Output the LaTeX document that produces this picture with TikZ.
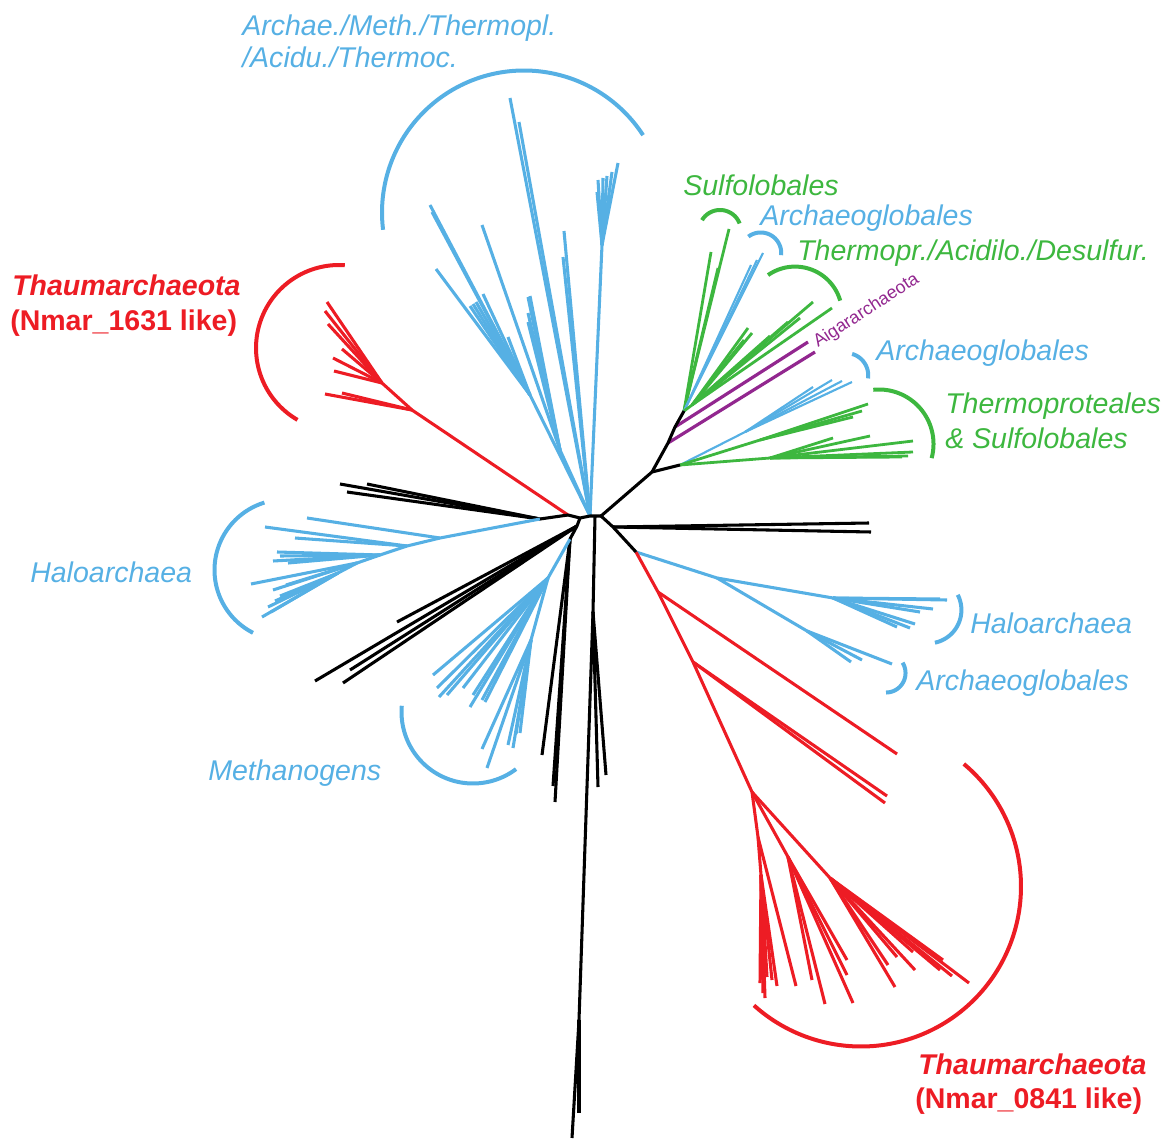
\documentclass[tikz,border=0pt]{standalone}
\usepackage{fontspec}
\setmainfont{Liberation Sans}
\definecolor{cblue}{RGB}{86,176,228}
\definecolor{cred}{RGB}{237,28,36}
\definecolor{cgreen}{RGB}{61,183,63}
\definecolor{cpurple}{RGB}{146,39,143}
\newcommand\leafset[3]{\foreach \lx/\ly in {#3}{\draw[#1] (#2) -- (\lx,\ly);}}
\newcommand\cladearc[6]{\draw[#1] plot[domain=#5:#6,samples=60,smooth] ({#2+#4*cos(\x)},{#3-#4*sin(\x)});}
\begin{document}
\begin{tikzpicture}[x=0.75pt,y=-0.75pt,
  blk/.style={line width=2.3pt,black},
  rb/.style={line width=2.3pt,cred},
  bb/.style={line width=2.3pt,cblue},
  bt/.style={line width=1.6pt,cblue},
  gb/.style={line width=2.1pt,cgreen},
  pb/.style={line width=2.4pt,cpurple},
  arcb/.style={line width=3pt,cblue},
  arcr/.style={line width=3pt,cred},
  arcg/.style={line width=3pt,cgreen},
  lab/.style={font=\fontsize{21.4}{26}\selectfont\itshape,anchor=base west,inner sep=0pt},
  blab/.style={font=\fontsize{21.4}{26}\selectfont\bfseries,anchor=base west,inner sep=0pt,text=cred}]
\useasboundingbox (0,0) rectangle (1166,1141);

% ---------- internal nodes ----------
\coordinate (J0) at (568,515);
\coordinate (J1) at (580,518);
\coordinate (J2) at (590,516);
\coordinate (JV) at (595,516);
\coordinate (J3) at (601,516);
\coordinate (JL) at (540,519);
\coordinate (JD) at (577,526);
\coordinate (JB) at (570,539);
\coordinate (K1) at (613,527);
\coordinate (K2) at (636,552);
\coordinate (P1) at (652,472);
\coordinate (G0) at (680,465);
\coordinate (Pa) at (668,443);
\coordinate (Pb) at (675,427);
\coordinate (P2) at (684,411);
\coordinate (P3) at (692,405);
\coordinate (GB) at (745,432);
\coordinate (GG1) at (760,440);
\coordinate (GG2) at (770,458);
\coordinate (R1) at (412,410);
\coordinate (R2) at (382,383);
\coordinate (U1) at (602,245);
\coordinate (U2) at (530,395);
\coordinate (U3) at (560,450);
\coordinate (H1) at (440,538);
\coordinate (H2) at (407,546);
\coordinate (H3) at (380,555);
\coordinate (H4) at (357,563);
\coordinate (H5) at (338,573);
\coordinate (M1) at (548,578);
\coordinate (M2) at (531,640);
\coordinate (V1) at (593,612);
\coordinate (V2) at (579,1020);
\coordinate (Q1) at (717,578);
\coordinate (Q2) at (833,598);
\coordinate (Q3) at (807,631);
\coordinate (T1) at (658,592);
\coordinate (T2) at (693,662);
\coordinate (T3) at (752,792);
\coordinate (T4) at (758,837);
\coordinate (T5) at (761,875);
\coordinate (T6) at (788,857);
\coordinate (T7) at (830,878);

% ---------- upper blue cluster ----------
\draw[bb] (J2) -- (U1);
\leafset{bb}{U1}{618/163, 612/172, 607/176, 603/178, 598/180, 597/192}
\leafset{bb}{J2}{510/98, 519/122, 564/231, 563/257}
\draw[bb] (J2) -- (U3);
\leafset{bb}{U3}{482/225, 528/297, 530/296, 528/313, 528/322}
\draw[bb] (J2) -- (U2);
\leafset{bb}{U2}{430/205, 432/212, 436/269, 470/306, 473/304, 476/302, 483/294, 508/337}

% ---------- upper-left red ----------
\draw[rb] (J0) -- (R1) -- (R2);
\leafset{rb}{R1}{325/394, 342/393}
\leafset{rb}{R2}{334/371, 333/358, 342/349, 327/302, 325/311, 328/324}

% ---------- left black + Haloarchaea ----------
\leafset{blk}{JL}{340/484, 367/484, 347/492}
\draw[bb] (JL) -- (H1) -- (H2) -- (H3) -- (H4) -- (H5);
\leafset{bb}{H1}{307/518}
\leafset{bb}{H2}{265/527, 295/538}
\leafset{bb}{H3}{277/552, 280/556, 273/561, 288/563}
\leafset{bb}{H4}{251/584, 273/590, 286/585}
\leafset{bb}{H5}{262/617, 268/607, 275/601, 280/596, 271/612}

% ---------- lower-left black + Methanogens ----------
\leafset{blk}{JD}{397/622, 315/681, 350/670, 343/683}
\leafset{blk}{JB}{542/755, 553/786, 555/802}
\draw[bb] (JB) -- (M1) -- (M2);
\leafset{bb}{M1}{433/675, 437/688, 439/697, 447/695, 463/688, 470/707, 473/695, 482/700, 485/702}
\leafset{bb}{M2}{482/749, 487/768, 513/748, 516/734, 520/733, 508/745}

% ---------- vertical black ----------
\draw[blk] (JV) -- (V1) -- (V2);
\leafset{blk}{V1}{598/787, 606/775}
\leafset{blk}{V2}{572/1138, 579/1113}

% ---------- right black ----------
\leafset{blk}{K1}{869/523, 871/532}

% ---------- lower right blue ----------
\draw[bb] (K2) -- (Q1) -- (Q2);
\draw[bb] (Q1) -- (Q3);
\leafset{bb}{Q2}{940/599, 947/600, 933/609, 920/612, 915/624, 910/628, 897/627}
\leafset{bb}{Q3}{892/664, 862/660, 851/662}

% ---------- lower right red ----------
\draw[rb] (K2) -- (T1) -- (T2) -- (T3) -- (T4) -- (T5);
\leafset{rb}{T1}{897/754}
\leafset{rb}{T2}{887/796, 885/803}
\leafset{rb}{T4}{796/986}
\leafset{rb}{T5}{760/983, 763/993, 765/998, 767/977, 772/980, 777/986}
\draw[rb] (T3) -- (T6);
\leafset{rb}{T6}{812/980, 825/1004, 847/960, 847/975, 853/1003}
\draw[rb] (T3) -- (T7);
\leafset{rb}{T7}{895/987, 888/965, 897/957, 913/952, 915/970, 943/960, 952/976, 969/983, 940/970}

% ---------- upper right clade ----------
\leafset{gb}{P2}{729/229, 711/252, 718/268}
\leafset{bt}{P2}{763/253, 757/260, 751/265}
\draw[gb] (P2) -- (P3);
\leafset{gb}{P3}{832/308, 813/302, 788/322, 800/318, 748/328, 752/333, 744/340, 770/336}
\draw[pb] (Pa) -- (815,352);
\draw[pb] (Pb) -- (808,342);
\draw[bt] (G0) -- (GB);
\leafset{bt}{GB}{852/382, 842/381, 832/380, 813/387}
\draw[gb] (G0) -- (GG1);
\leafset{gb}{GG1}{868/404, 853/417, 862/411}
\draw[gb] (G0) -- (GG2);
\leafset{gb}{GG2}{870/436, 833/438, 913/441, 913/452, 908/456, 902/457}

% ---------- black backbone ----------
\draw[blk,line join=round] (J0) -- (J1) -- (J2) -- (J3);
\draw[blk] (J0) -- (JL);
\draw[blk,line join=round] (J1) -- (JD) -- (JB);
\draw[blk,line join=round] (J3) -- (K1) -- (K2);
\draw[blk,line join=round] (J3) -- (P1) -- (G0);
\draw[blk,line join=round] (P1) -- (Pa) -- (Pb) -- (P2);

% ---------- clade arcs ----------
\cladearc{arcb}{524}{212.5}{142}{33}{187}
\cladearc{arcr}{339}{348}{83}{86}{240}
\cladearc{arcb}{285}{570}{70.5}{107}{243}
\cladearc{arcb}{473}{712}{71.5}{175}{307}
\cladearc{arcb}{928}{610}{33.4}{-78}{27}
\cladearc{arcb}{886}{673}{19.5}{-90}{32}
\cladearc{arcr}{861}{886.5}{160}{-132}{50}
\cladearc{arcg}{720}{231}{21}{21}{149}
\cladearc{arcb}{760.7}{253}{20.5}{-6}{127}
\cladearc{arcg}{795}{313.6}{47}{16}{125}
\cladearc{arcb}{846}{375.3}{22.2}{-8}{74}
\cladearc{arcg}{879}{444}{54.5}{-15}{96}

% ---------- labels ----------
\node[lab,text=cblue] (tArchA) at (242,36) {Archae./Meth./Thermopl.};
\node[lab,text=cblue] (tArchB) at (242,68) {/Acidu./Thermoc.};
\node[lab,text=cgreen] (tSulf) at (683,196) {Sulfolobales};
\node[lab,text=cblue] (tAg1) at (760,226) {Archaeoglobales};
\node[lab,text=cgreen] (tThr) at (797,261) {Thermopr./Acidilo./Desulfur.};
\node[lab,text=cblue] (tAg2) at (876,360) {Archaeoglobales};
\node[lab,text=cgreen] (tTp1) at (945,413) {Thermoproteales};
\node[lab,text=cgreen] (tTp2) at (945,448) {\& Sulfolobales};
\node[blab] (tTh1) at (12,295) {\itshape Thaumarchaeota};
\node[blab] (tNm1) at (10,330) {(Nmar\_1631 like)};
\node[lab,text=cblue] (tHal1) at (30,582) {Haloarchaea};
\node[lab,text=cblue] (tHal2) at (970,633) {Haloarchaea};
\node[lab,text=cblue] (tAg3) at (916,690) {Archaeoglobales};
\node[lab,text=cblue] (tMeth) at (208,780) {Methanogens};
\node[blab] (tTh2) at (918,1074) {\itshape Thaumarchaeota};
\node[blab] (tNm2) at (915,1108) {(Nmar\_0841 like)};
\node[font=\fontsize{13.4}{16}\selectfont,text=cpurple,anchor=base west,rotate=33,inner sep=0pt] (tAig) at (818,348) {Aigararchaeota};
\end{tikzpicture}
\end{document}
